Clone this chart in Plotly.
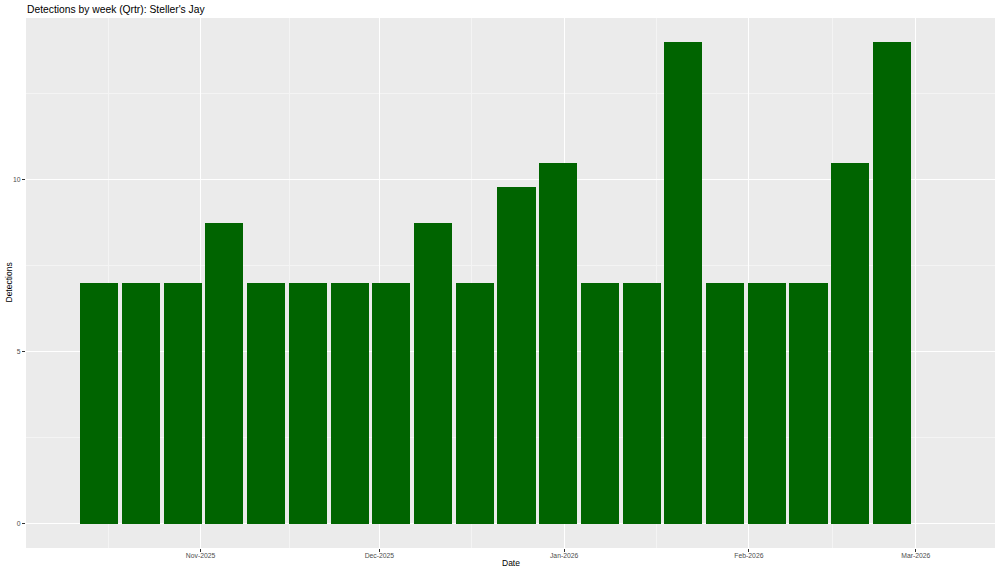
import plotly.graph_objects as go
import pandas as pd

# Data
week_dates = ["2025-10-15", "2025-10-22", "2025-10-29", "2025-11-05", "2025-11-12",
              "2025-11-19", "2025-11-26", "2025-12-03", "2025-12-10", "2025-12-17",
              "2025-12-24", "2025-12-31", "2026-01-07", "2026-01-14", "2026-01-21",
              "2026-01-28", "2026-02-04", "2026-02-11", "2026-02-18", "2026-02-25"]
detections = [7, 7, 7, 8.75, 7, 7, 7, 7, 8.75, 7, 9.8, 10.5, 7, 7, 14, 7, 7, 7, 10.5, 14]

x_tick_dates = ["2025-11-01", "2025-12-01", "2026-01-01", "2026-02-01", "2026-03-01"]
x_tick_labels = ["Nov-2025", "Dec-2025", "Jan-2026", "Feb-2026", "Mar-2026"]
y_tick_vals = [0, 5, 10]

title_text = "Detections by week (Qrtr): Steller's Jay"
x_title = "Date"
y_title = "Detections"

# minor grid at midpoints between month breaks (ggplot style)
month_breaks = pd.to_datetime(["2025-10-01"] + x_tick_dates + ["2026-04-01"])
minor_x = [(month_breaks[i] + (month_breaks[i + 1] - month_breaks[i]) / 2).strftime("%Y-%m-%d %H:%M")
           for i in range(len(month_breaks) - 1)]

FONT = "Liberation Sans, Arial, sans-serif"
DAY_MS = 86400000
W, H = 1000, 573
ML, MR, MT, MB = 26, 5, 18, 25
PW = W - ML - MR
PH = H - MT - MB

fig = go.Figure(
    go.Bar(
        x=week_dates,
        y=detections,
        width=[6.4 * DAY_MS] * len(week_dates),
        marker=dict(color="#006400", line=dict(width=0)),
        hoverinfo="x+y",
    )
)

fig.update_layout(
    width=W,
    height=H,
    margin=dict(l=ML, r=MR, t=MT, b=MB, pad=0, autoexpand=False),
    paper_bgcolor="white",
    plot_bgcolor="#EBEBEB",
    showlegend=False,
    bargap=0,
    title=dict(
        text=title_text,
        font=dict(family=FONT, size=10.3, color="black"),
        x=0.027, xref="container", xanchor="left",
        y=1 - 9.5 / H, yref="container", yanchor="middle",
        automargin=False,
    ),
    font=dict(family=FONT),
    annotations=[
        dict(text=x_title, xref="paper", yref="paper",
             x=(510.7 - ML) / PW, y=(H - MB - 563.3) / PH,
             xanchor="center", yanchor="middle", showarrow=False,
             font=dict(family=FONT, size=8.5, color="black")),
        dict(text=y_title, xref="paper", yref="paper",
             x=(8.5 - ML) / PW, y=(H - MB - 283) / PH, textangle=-90,
             xanchor="center", yanchor="middle", showarrow=False,
             font=dict(family=FONT, size=8.5, color="black")),
    ],
)

fig.update_xaxes(
    type="date",
    automargin=False,
    range=["2025-10-02 17:00", "2026-03-14 07:00"],
    tickmode="array",
    tickvals=x_tick_dates,
    ticktext=x_tick_labels,
    tickfont=dict(family=FONT, size=6.8, color="#4D4D4D"),
    ticks="outside",
    ticklen=3,
    tickwidth=1,
    tickcolor="#333333",
    ticklabelstandoff=-2,
    showgrid=True,
    gridcolor="white",
    gridwidth=1.1,
    minor=dict(tickmode="array", tickvals=minor_x, showgrid=True,
               gridcolor="#F4F4F4", gridwidth=0.6, ticks=""),
    zeroline=False,
    showline=False,
)

fig.update_yaxes(
    automargin=False,
    range=[-0.7, 14.7],
    tickmode="array",
    tickvals=y_tick_vals,
    tickfont=dict(family=FONT, size=6.8, color="#4D4D4D"),
    ticks="outside",
    ticklen=3,
    tickwidth=1,
    tickcolor="#333333",
    showgrid=True,
    gridcolor="white",
    gridwidth=1.1,
    minor=dict(dtick=2.5, tick0=0, showgrid=True, gridcolor="#F4F4F4", gridwidth=0.6, ticks=""),
    zeroline=False,
    showline=False,
)

fig.write_html(
    "out.html",
    config={"displayModeBar": False},
    post_script="document.body.style.margin='0';document.body.style.overflow='hidden';",
)
